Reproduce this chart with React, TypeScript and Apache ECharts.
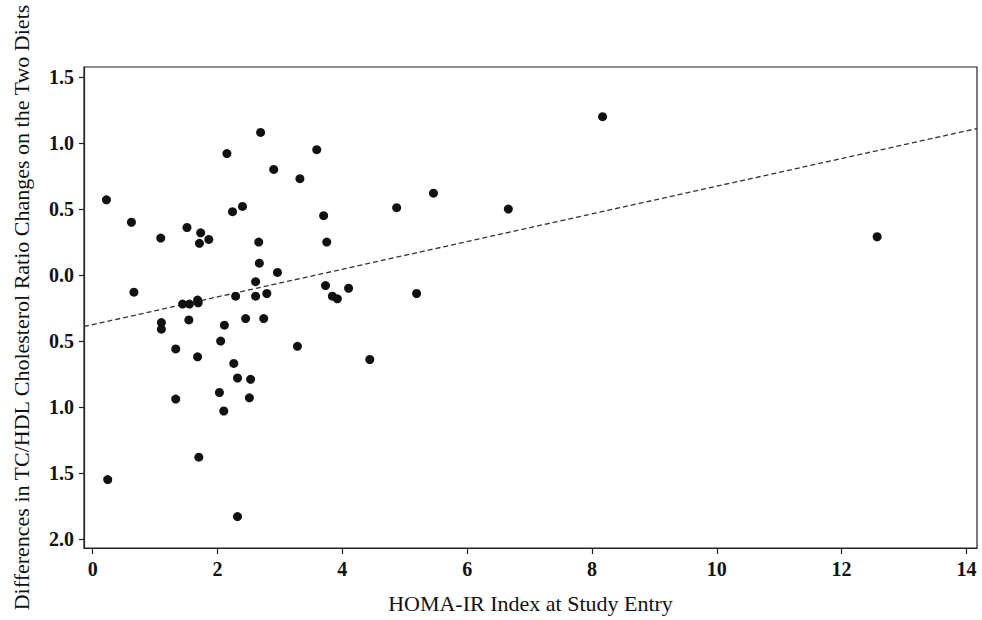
import React, { useEffect, useRef } from "react";
import * as echarts from "echarts";

// HOMA-IR index at study entry (x) and difference in TC/HDL ratio change (y)
const homaIR = [
  0.22, 0.62, 0.66, 0.24, 1.09, 1.10, 1.10, 1.33, 1.33, 1.44,
  1.51, 1.55, 1.54, 1.68, 1.69, 1.68, 1.73, 1.71, 1.86, 1.70,
  2.15, 2.24, 2.40, 2.69, 2.90, 2.66, 2.67, 2.61, 2.96, 2.29,
  2.61, 2.79, 2.45, 2.74, 2.11, 2.05, 2.26, 2.32, 2.53, 2.03,
  2.51, 2.10, 2.32, 3.32, 3.59, 3.70, 3.75, 3.73, 3.84, 3.92,
  4.10, 3.28, 4.44, 4.87, 5.19, 5.46, 6.66, 8.17, 12.57,
];
const ratioDiff = [
  0.57, 0.40, -0.13, -1.55, 0.28, -0.36, -0.41, -0.56, -0.94, -0.22,
  0.36, -0.22, -0.34, -0.19, -0.21, -0.62, 0.32, 0.24, 0.27, -1.38,
  0.92, 0.48, 0.52, 1.08, 0.80, 0.25, 0.09, -0.05, 0.02, -0.16,
  -0.16, -0.14, -0.33, -0.33, -0.38, -0.50, -0.67, -0.78, -0.79, -0.89,
  -0.93, -1.03, -1.83, 0.73, 0.95, 0.45, 0.25, -0.08, -0.16, -0.18,
  -0.10, -0.54, -0.64, 0.51, -0.14, 0.62, 0.50, 1.20, 0.29,
];

// Fitted regression line end points
const trendX = [-0.14, 14.17];
const trendY = [-0.39, 1.11];

// Tick values
const xTicks = [0, 2, 4, 6, 8, 10, 12, 14];
const yTicks = [-2.0, -1.5, -1.0, -0.5, 0.0, 0.5, 1.0, 1.5];

const xTitle = "HOMA-IR Index at Study Entry";
const yTitle = "Differences in TC/HDL Cholesterol Ratio Changes on the Two Diets";

const FONT = "'Liberation Serif', 'DejaVu Serif', serif";
const INK = "#111";

export default function App() {
  const ref = useRef<HTMLDivElement>(null);

  useEffect(() => {
    if (!ref.current) return;
    const chart = echarts.init(ref.current, undefined, { renderer: "svg" });
    const points = homaIR.map((x, i) => [x, ratioDiff[i]]);
    const trend = trendX.map((x, i) => [x, trendY[i]]);
    chart.setOption({
      animation: false,
      backgroundColor: "#ffffff",
      grid: {
        left: 84,
        right: 5,
        top: 67,
        bottom: 72,
        show: true,
        borderColor: "#222",
        borderWidth: 1.2,
        backgroundColor: "transparent",
      },
      xAxis: {
        type: "value",
        min: -0.14,
        max: 14.17,
        name: xTitle,
        nameLocation: "middle",
        nameGap: 44,
        nameTextStyle: { fontFamily: FONT, fontSize: 22, color: INK },
        axisLine: { show: true, onZero: false, lineStyle: { color: "#222", width: 1.2 } },
        axisTick: { show: true, customValues: xTicks, length: 6, lineStyle: { color: "#222", width: 1.2 } },
        axisLabel: {
          customValues: xTicks,
          margin: 11,
          fontFamily: FONT,
          fontWeight: "bold",
          fontSize: 20,
          color: INK,
        },
        splitLine: { show: false },
      },
      yAxis: {
        type: "value",
        min: -2.068,
        max: 1.576,
        name: yTitle,
        nameLocation: "middle",
        nameGap: 52,
        nameRotate: 90,
        nameTextStyle: { fontFamily: FONT, fontSize: 22, color: INK },
        axisLine: { show: true, onZero: false, lineStyle: { color: "#222", width: 1.2 } },
        axisTick: { show: true, customValues: yTicks, length: 5, lineStyle: { color: "#222", width: 1.2 } },
        axisLabel: {
          customValues: yTicks,
          margin: 10,
          fontFamily: FONT,
          fontWeight: "bold",
          fontSize: 20,
          color: INK,
          formatter: (v: number) => Math.abs(v).toFixed(1),
        },
        splitLine: { show: false },
      },
      series: [
        {
          type: "line",
          data: trend,
          symbol: "none",
          lineStyle: { color: "#333", width: 1.3, type: [5, 3] },
          silent: true,
          z: 1,
        },
        {
          type: "scatter",
          data: points,
          symbol: "circle",
          symbolSize: 9,
          itemStyle: { color: INK, opacity: 1 },
          z: 2,
        },
      ],
    });
    return () => chart.dispose();
  }, []);

  return (
    <div
      ref={ref}
      style={{ position: "fixed", left: 0, top: 0, width: 982, height: 620, background: "#fff" }}
    />
  );
}
